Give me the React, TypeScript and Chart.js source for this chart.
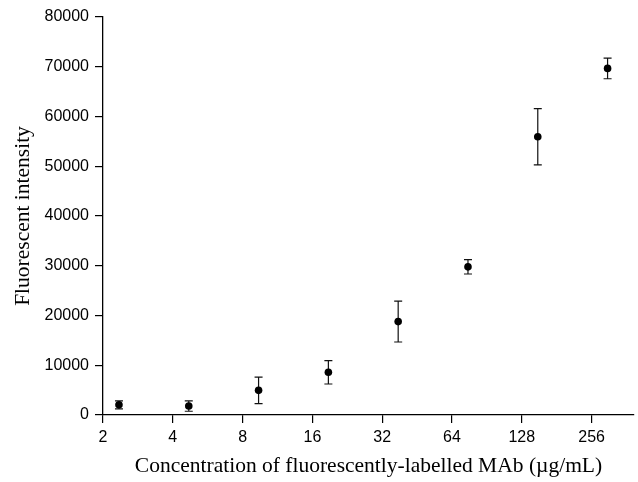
import React, { useEffect, useRef } from 'react';
import { Chart, registerables } from 'chart.js';

Chart.register(...registerables);

// Two-fold dilution series of the labelled MAb (µg/mL)
const concentrations = [2.34375, 4.6875, 9.375, 18.75, 37.5, 75, 150, 300];
const intensities = [2050, 1800, 4950, 8580, 18770, 29780, 55930, 69670];
const errors = [800, 1050, 2650, 2350, 4100, 1440, 5640, 2080];
const xTickValues = [2, 4, 8, 16, 32, 64, 128, 256];
const yTickValues = [0, 10000, 20000, 30000, 40000, 50000, 60000, 70000, 80000];

const xTitle = 'Concentration of fluorescently-labelled MAb (\u00b5g/mL)';
const yTitle = 'Fluorescent intensity';

const errorBarPlugin = {
  id: 'errorBars',
  beforeDatasetsDraw(chart: any) {
    const { ctx, scales } = chart;
    const x = scales.x;
    const y = scales.y;
    ctx.save();
    ctx.strokeStyle = '#111';
    ctx.lineWidth = 1.2;
    concentrations.forEach((c, i) => {
      const px = x.getPixelForValue(c);
      const top = y.getPixelForValue(intensities[i] + errors[i]);
      const bot = y.getPixelForValue(intensities[i] - errors[i]);
      ctx.beginPath();
      ctx.moveTo(px, top);
      ctx.lineTo(px, bot);
      ctx.moveTo(px - 4, top);
      ctx.lineTo(px + 4, top);
      ctx.moveTo(px - 4, bot);
      ctx.lineTo(px + 4, bot);
      ctx.stroke();
    });
    ctx.restore();
  },
};

export default function App() {
  const canvasRef = useRef<HTMLCanvasElement>(null);

  useEffect(() => {
    document.body.style.margin = '0';
    const canvas = canvasRef.current;
    if (!canvas) return;
    const chart = new Chart(canvas, {
      type: 'scatter',
      data: {
        datasets: [
          {
            data: concentrations.map((c, i) => ({ x: c, y: intensities[i] })),
            backgroundColor: '#000',
            borderColor: '#000',
            borderWidth: 0,
            pointRadius: 3.8,
          },
        ],
      },
      options: {
        responsive: false,
        animation: false,
        devicePixelRatio: 1,
        layout: { padding: { top: 17, right: 0, left: 0, bottom: 0 } },
        plugins: {
          legend: { display: false },
          tooltip: { enabled: false },
        },
        scales: {
          x: {
            type: 'logarithmic',
            min: 2,
            max: 390,
            afterBuildTicks: (scale: any) => {
              scale.ticks = xTickValues.map((v) => ({ value: v }));
            },
            afterFit: (scale: any) => {
              scale.height = 67;
            },
            ticks: {
              autoSkip: false,
              maxRotation: 0,
              padding: 5,
              color: '#000',
              font: { family: 'Liberation Sans, Arial, sans-serif', size: 16 },
              callback: (v: any) => String(v),
            },
            grid: {
              display: true,
              drawOnChartArea: false,
              drawTicks: true,
              tickLength: 8,
              color: '#000',
              lineWidth: 1.2,
            },
            border: { display: true, color: '#000', width: 1.3 },
            title: {
              display: true,
              text: xTitle,
              color: '#000',
              font: { family: 'Liberation Serif, Times New Roman, serif', size: 21.5 },
              padding: { top: 0, bottom: 3 },
            },
          },
          y: {
            type: 'linear',
            min: 0,
            max: 80000,
            afterBuildTicks: (scale: any) => {
              scale.ticks = yTickValues.map((v) => ({ value: v }));
            },
            afterFit: (scale: any) => {
              scale.width = 103;
            },
            ticks: {
              padding: 6,
              color: '#000',
              font: { family: 'Liberation Sans, Arial, sans-serif', size: 16 },
              callback: (v: any) => String(v),
            },
            grid: {
              display: true,
              drawOnChartArea: false,
              drawTicks: true,
              tickLength: 8,
              color: '#000',
              lineWidth: 1.2,
            },
            border: { display: true, color: '#000', width: 1.3 },
            title: {
              display: true,
              text: yTitle,
              color: '#000',
              font: { family: 'Liberation Serif, Times New Roman, serif', size: 21.5 },
              padding: { top: 10.5, bottom: 0 },
            },
          },
        },
      },
      plugins: [errorBarPlugin],
    });
    return () => chart.destroy();
  }, []);

  return (
    <canvas
      ref={canvasRef}
      width={638}
      height={482}
      style={{ display: 'block', width: '638px', height: '482px' }}
    />
  );
}
